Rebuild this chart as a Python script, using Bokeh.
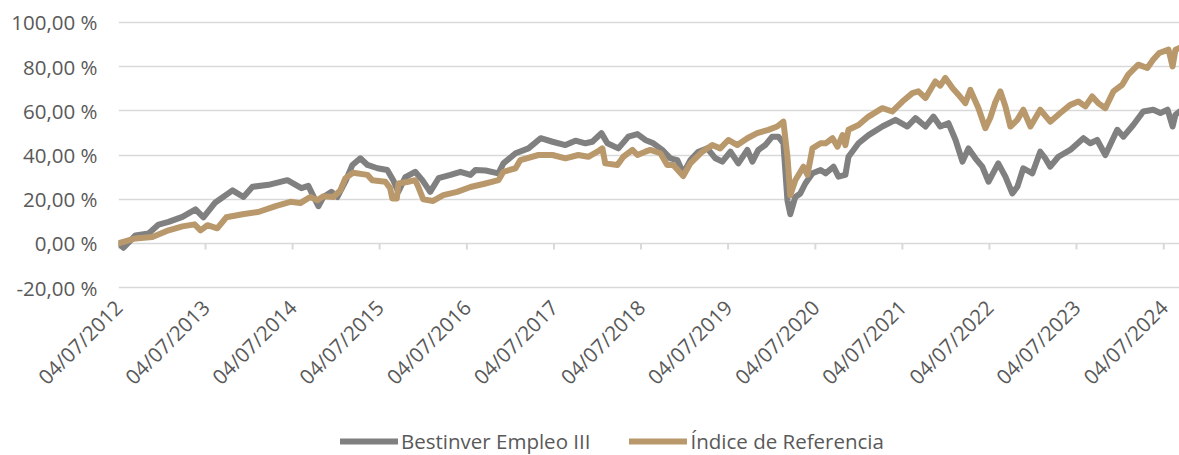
from math import pi
import pandas as pd
from bokeh.plotting import figure
from bokeh.layouts import column
from bokeh.models import FixedTicker, Legend, LegendItem, Range1d
from bokeh.embed import file_html
from bokeh.resources import INLINE

# ---------------- data ----------------
fund_name = "Bestinver Empleo III"
index_name = "Índice de Referencia"

fund_dates = [
    "2012-07-04", "2012-07-25", "2012-09-13", "2012-11-07", "2012-12-19", "2013-01-30",
    "2013-03-29", "2013-05-23", "2013-06-25", "2013-08-14", "2013-10-25", "2013-12-10",
    "2014-01-17", "2014-03-25", "2014-06-12", "2014-08-10", "2014-09-08", "2014-10-20",
    "2014-11-10", "2014-12-14", "2015-01-08", "2015-02-10", "2015-03-12", "2015-04-14",
    "2015-05-14", "2015-06-25", "2015-08-05", "2015-08-30", "2015-09-20", "2015-10-20",
    "2015-11-30", "2015-12-30", "2016-02-01", "2016-03-07", "2016-04-26", "2016-06-07",
    "2016-07-19", "2016-08-09", "2016-09-20", "2016-11-13", "2016-12-04", "2017-01-24",
    "2017-03-19", "2017-05-09", "2017-06-28", "2017-08-21", "2017-10-02", "2017-11-13",
    "2017-12-12", "2018-01-19", "2018-02-13", "2018-03-31", "2018-05-12", "2018-06-19",
    "2018-07-22", "2018-08-25", "2018-10-01", "2018-11-04", "2018-12-03", "2018-12-28",
    "2019-01-27", "2019-03-02", "2019-04-08", "2019-05-12", "2019-06-10", "2019-07-14",
    "2019-08-16", "2019-09-23", "2019-10-14", "2019-11-08", "2019-12-07", "2020-01-05",
    "2020-01-31", "2020-02-21", "2020-03-09", "2020-03-21", "2020-04-11", "2020-05-02",
    "2020-05-23", "2020-06-22", "2020-07-26", "2020-08-16", "2020-09-18", "2020-10-09",
    "2020-11-07", "2020-11-20", "2021-01-01", "2021-02-12", "2021-04-11", "2021-06-05",
    "2021-07-25", "2021-08-28", "2021-10-09", "2021-11-11", "2021-12-10", "2022-01-13",
    "2022-02-12", "2022-03-13", "2022-04-07", "2022-05-06", "2022-06-04", "2022-06-30",
    "2022-08-10", "2022-09-09", "2022-10-08", "2022-10-29", "2022-11-23", "2022-12-31",
    "2023-02-02", "2023-02-23", "2023-03-16", "2023-04-19", "2023-06-08", "2023-08-02",
    "2023-08-31", "2023-09-29", "2023-11-02", "2023-12-22", "2024-01-17", "2024-02-27",
    "2024-04-09", "2024-05-21", "2024-06-20", "2024-07-20", "2024-08-10", "2024-08-22",
    "2024-09-08",
]
fund_values = [
    0.0, -2.0, 3.6, 4.5, 8.5, 9.7,
    12.0, 15.4, 11.8, 18.5, 24.0, 21.0,
    25.6, 26.5, 28.6, 25.0, 26.0, 16.8,
    21.0, 23.3, 21.0, 27.9, 35.5, 38.5,
    35.5, 34.0, 33.2, 28.6, 23.3, 30.0,
    32.4, 28.6, 23.3, 29.5, 31.0, 32.4,
    31.0, 33.2, 33.0, 31.7, 36.2, 40.8,
    43.0, 47.6, 46.0, 44.5, 46.5, 45.3,
    46.0, 49.9, 45.3, 43.0, 48.3, 49.5,
    46.8, 45.3, 42.3, 38.5, 37.7, 31.7,
    37.7, 41.5, 43.0, 38.5, 37.0, 41.5,
    36.2, 42.3, 37.0, 42.3, 44.5, 48.3,
    48.3, 45.3, 19.5, 13.2, 21.0, 22.6,
    27.1, 31.7, 33.2, 31.7, 34.7, 30.2,
    31.0, 39.2, 45.3, 49.0, 52.9, 55.9,
    52.9, 56.7, 52.9, 57.4, 52.9, 54.4,
    46.8, 37.0, 43.0, 38.5, 34.7, 27.9,
    36.2, 30.2, 22.6, 25.6, 34.0, 31.7,
    41.5, 38.5, 34.7, 39.2, 42.3, 47.6,
    45.3, 46.8, 40.0, 51.4, 48.3, 53.6,
    59.7, 60.5, 59.0, 60.5, 52.9, 58.2,
    59.7,
]

index_dates = [
    "2012-07-04", "2012-09-13", "2012-11-23", "2013-01-30", "2013-03-29", "2013-05-19",
    "2013-06-13", "2013-07-12", "2013-08-22", "2013-09-29", "2013-12-06", "2014-02-10",
    "2014-04-27", "2014-06-25", "2014-08-05", "2014-09-16", "2014-10-16", "2014-11-10",
    "2014-12-22", "2015-01-20", "2015-02-10", "2015-03-15", "2015-05-14", "2015-06-03",
    "2015-07-28", "2015-08-17", "2015-08-26", "2015-09-14", "2015-09-21", "2015-11-01",
    "2015-11-30", "2015-12-13", "2016-01-03", "2016-02-13", "2016-03-27", "2016-05-24",
    "2016-07-19", "2016-09-20", "2016-11-13", "2016-12-04", "2017-01-24", "2017-02-13",
    "2017-04-30", "2017-06-28", "2017-08-21", "2017-10-14", "2017-11-25", "2018-01-02",
    "2018-01-23", "2018-02-04", "2018-03-27", "2018-04-21", "2018-05-29", "2018-06-19",
    "2018-07-22", "2018-08-12", "2018-09-23", "2018-10-22", "2018-11-16", "2018-12-28",
    "2019-01-27", "2019-03-18", "2019-04-29", "2019-06-01", "2019-07-05", "2019-08-12",
    "2019-09-23", "2019-11-03", "2019-12-20", "2020-01-26", "2020-02-21", "2020-03-09",
    "2020-03-21", "2020-04-11", "2020-05-15", "2020-06-01", "2020-06-22", "2020-07-26",
    "2020-08-16", "2020-09-14", "2020-10-05", "2020-10-26", "2020-11-07", "2020-11-20",
    "2021-01-01", "2021-02-12", "2021-04-11", "2021-05-23", "2021-07-04", "2021-08-15",
    "2021-09-09", "2021-10-09", "2021-11-19", "2021-12-10", "2021-12-31", "2022-01-30",
    "2022-02-24", "2022-03-25", "2022-04-15", "2022-05-19", "2022-06-17", "2022-07-08",
    "2022-07-29", "2022-08-19", "2022-09-09", "2022-09-30", "2022-10-29", "2022-11-23",
    "2022-12-23", "2023-02-02", "2023-03-16", "2023-04-27", "2023-06-08", "2023-07-12",
    "2023-08-10", "2023-09-08", "2023-10-03", "2023-11-02", "2023-12-06", "2024-01-12",
    "2024-02-06", "2024-03-19", "2024-04-26", "2024-05-21", "2024-06-15", "2024-07-24",
    "2024-08-10", "2024-08-22", "2024-09-08",
]
index_values = [
    0.0, 2.2, 2.9, 5.9, 7.7, 8.6,
    5.9, 8.2, 6.8, 11.8, 13.2, 14.2,
    17.0, 18.8, 18.2, 21.0, 19.5, 21.3,
    21.0, 24.0, 29.4, 32.0, 31.0, 28.6,
    27.9, 25.0, 20.3, 20.3, 27.1, 27.9,
    28.6, 25.6, 19.9, 19.2, 21.8, 23.3,
    25.5, 27.1, 28.6, 32.4, 34.0, 37.7,
    40.0, 40.0, 38.5, 40.0, 39.2, 41.5,
    43.0, 36.2, 35.5, 39.2, 42.3, 40.0,
    41.5, 42.3, 40.8, 35.5, 35.5, 30.5,
    36.2, 41.5, 44.5, 43.0, 46.8, 44.5,
    47.6, 49.9, 51.4, 52.9, 55.1, 39.2,
    21.8, 28.6, 34.7, 31.0, 43.0, 45.3,
    45.3, 47.6, 43.8, 49.0, 44.5, 51.4,
    53.6, 57.4, 61.2, 59.7, 64.2, 68.0,
    68.8, 65.8, 73.3, 71.4, 74.9, 70.3,
    67.3, 63.5, 69.5, 61.2, 52.1, 57.0,
    64.0, 68.8, 62.0, 52.9, 55.9, 60.5,
    52.9, 60.5, 55.1, 59.0, 62.7, 64.2,
    62.0, 66.5, 63.5, 61.2, 68.8, 71.8,
    76.4, 80.9, 79.4, 83.2, 86.2, 87.7,
    80.1, 87.7, 88.5,
]

x_tick_dates = ["2012-07-04", "2013-07-04", "2014-07-04", "2015-07-04", "2016-07-04",
                "2017-07-04", "2018-07-04", "2019-07-04", "2020-07-04", "2021-07-04",
                "2022-07-04", "2023-07-04", "2024-07-04"]
x_tick_labels = ["04/07/2012", "04/07/2013", "04/07/2014", "04/07/2015", "04/07/2016",
                 "04/07/2017", "04/07/2018", "04/07/2019", "04/07/2020", "04/07/2021",
                 "04/07/2022", "04/07/2023", "04/07/2024"]
y_ticks = [-20, 0, 20, 40, 60, 80, 100]
y_tick_labels = ["-20,00 %", "0,00 %", "20,00 %", "40,00 %", "60,00 %", "80,00 %", "100,00 %"]

# ---------------- styling ----------------
FONT = "Open Sans"
FSIZE = "20.5px"
TEXT = "#595959"
GRID = "#d9d9d9"
GRAY = "#808080"
TAN = "#b9986c"
LW = 6

fund_dt = pd.to_datetime(fund_dates)
index_dt = pd.to_datetime(index_dates)
tick_dt = pd.to_datetime(x_tick_dates)
tick_ms = [int(t.value // 10**6) for t in tick_dt]

p = figure(
    width=1179, height=423,
    x_axis_type="datetime",
    x_range=Range1d(fund_dt[0], fund_dt[-1]),
    y_range=Range1d(-20.9, 100.9),
    output_backend="svg", toolbar_location=None,
    min_border_left=118, min_border_right=0, min_border_top=20, min_border_bottom=134,
)
p.outline_line_color = None
p.xgrid.grid_line_color = None
p.ygrid.grid_line_color = GRID
p.ygrid.grid_line_width = 1.5

# y axis
p.yaxis.ticker = FixedTicker(ticks=y_ticks)
p.yaxis.major_label_overrides = dict(zip(y_ticks, y_tick_labels))
p.yaxis.axis_line_color = None
p.yaxis.major_tick_line_color = None
p.yaxis.minor_tick_line_color = None
p.yaxis.major_tick_out = 0
p.yaxis.major_tick_in = 0
p.yaxis.major_label_standoff = 21
p.yaxis.major_label_text_font = FONT
p.yaxis.major_label_text_font_size = FSIZE
p.yaxis.major_label_text_color = TEXT

# x axis
p.xaxis.ticker = FixedTicker(ticks=tick_ms)
p.xaxis.major_label_overrides = dict(zip(tick_ms, x_tick_labels))
p.xaxis.axis_line_color = None
p.xaxis.major_tick_line_color = None
p.xaxis.minor_tick_line_color = None
p.xaxis.major_tick_out = 0
p.xaxis.major_tick_in = 0
p.xaxis.major_label_orientation = pi / 4
p.xaxis.major_label_standoff = 14
p.xaxis.major_label_text_font = FONT
p.xaxis.major_label_text_font_size = FSIZE
p.xaxis.major_label_text_color = TEXT

# small tick marks hanging from the 0 line
p.segment(x0=tick_dt, y0=[0] * len(tick_dt), x1=tick_dt, y1=[-2.8] * len(tick_dt),
          line_color=GRID, line_width=2)

p.line(fund_dt, fund_values, line_color=GRAY, line_width=LW, line_join="round", line_cap="round")
p.line(index_dt, index_values, line_color=TAN, line_width=LW, line_join="round", line_cap="round")

# ---------------- legend strip below the chart ----------------
# (same series, drawn outside this strip's visible range, only to key the legend)
leg = figure(width=1179, height=32, output_backend="svg", toolbar_location=None,
             x_range=Range1d(0, 1), y_range=Range1d(0, 1), min_border=0)
leg.axis.visible = False
leg.grid.visible = False
leg.outline_line_color = None
k_fund = leg.line(fund_dt, fund_values, line_color=GRAY, line_width=LW, line_cap="round")
k_index = leg.line(index_dt, index_values, line_color=TAN, line_width=LW, line_cap="round")
legend = Legend(
    items=[LegendItem(label=fund_name, renderers=[k_fund]),
           LegendItem(label=index_name, renderers=[k_index])],
    orientation="horizontal",
    location=(222, 0),
    background_fill_alpha=0,
    border_line_color=None,
    glyph_width=58, glyph_height=20,
    label_standoff=3, spacing=39,
    padding=0, margin=0,
    label_text_font=FONT, label_text_font_size=FSIZE, label_text_color=TEXT,
)
leg.add_layout(legend)

layout = column(p, leg, spacing=0)
open("out.html", "w").write(file_html(layout, INLINE))
